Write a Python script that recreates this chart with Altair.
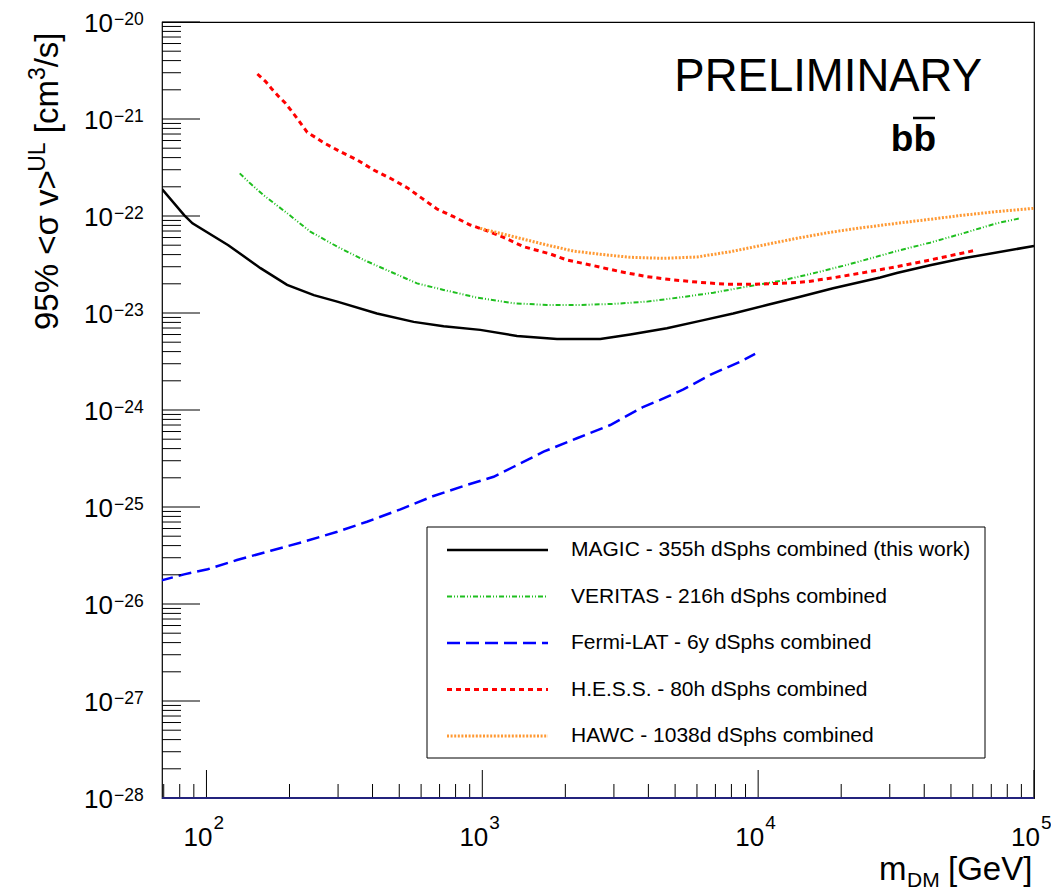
import altair as alt
import pandas as pd

# ---------------- data ----------------
magic_m = [69, 83, 89, 120, 157, 196, 245, 298, 415, 564, 724, 983, 1336, 1865, 2677,
           3438, 4669, 6165, 8120, 10750, 14200, 18700, 27700, 31800, 42000, 55400, 100000]
magic_sv = [1.90e-22, 1.02e-22, 8.4e-23, 5.0e-23, 2.9e-23, 1.95e-23, 1.53e-23, 1.31e-23,
            9.9e-24, 8.1e-24, 7.3e-24, 6.7e-24, 5.8e-24, 5.4e-24, 5.4e-24, 6.0e-24, 6.95e-24,
            8.3e-24, 9.9e-24, 1.21e-23, 1.47e-23, 1.80e-23, 2.32e-23, 2.58e-23, 3.1e-23,
            3.66e-23, 4.91e-23]

veritas_m = [132, 144, 161, 196, 238, 298, 372, 464, 580, 724, 957, 1299, 1716, 2265, 2991,
             3952, 5218, 6887, 9100, 12020, 15870, 20960, 31800, 42000, 55400, 73270, 89000]
veritas_sv = [2.75e-22, 2.17e-22, 1.64e-22, 1.07e-22, 6.9e-23, 4.83e-23, 3.52e-23, 2.67e-23,
              2.02e-23, 1.73e-23, 1.44e-23, 1.26e-23, 1.21e-23, 1.21e-23, 1.24e-23, 1.31e-23,
              1.45e-23, 1.62e-23, 1.87e-23, 2.14e-23, 2.57e-23, 3.13e-23, 4.35e-23, 5.31e-23,
              6.64e-23, 8.41e-23, 9.47e-23]

fermi_m = [68, 83, 101, 129, 171, 225, 298, 382, 505, 666, 880, 1099, 1299, 1668, 2203,
           2910, 3841, 4415, 5360, 6700, 8606, 9750]
fermi_sv = [1.74e-26, 2.02e-26, 2.28e-26, 2.84e-26, 3.54e-26, 4.38e-26, 5.56e-26, 7.05e-26,
            9.46e-26, 1.30e-25, 1.69e-25, 2.05e-25, 2.60e-25, 3.72e-25, 5.11e-25, 7.00e-25,
            1.08e-24, 1.27e-24, 1.63e-24, 2.30e-24, 3.15e-24, 3.78e-24]

hess_m = [153, 164, 173, 183, 193, 202, 213, 222, 232, 248, 266, 306, 352, 404, 464, 534,
          605, 685, 787, 905, 1040, 1194, 1411, 1764, 2027, 2462, 3162, 3952, 4933, 6165,
          7701, 9616, 12020, 15010, 18740, 23420, 31800, 42000, 60260]
hess_sv = [2.91e-21, 2.43e-21, 2.02e-21, 1.70e-21, 1.46e-21, 1.24e-21, 1.02e-21, 8.67e-22,
           7.29e-22, 6.48e-22, 5.70e-22, 4.60e-22, 3.78e-22, 2.98e-22, 2.45e-22, 1.96e-22,
           1.52e-22, 1.18e-22, 9.84e-23, 8.07e-23, 7.05e-23, 6.03e-23, 4.83e-23, 4.06e-23,
           3.52e-23, 3.13e-23, 2.67e-23, 2.37e-23, 2.19e-23, 2.07e-23, 1.98e-23, 1.98e-23,
           2.02e-23, 2.10e-23, 2.31e-23, 2.57e-23, 3.00e-23, 3.52e-23, 4.38e-23]

hawc_m = [983, 1299, 1716, 2142, 2677, 3438, 4539, 5997, 7917, 10450, 13810, 18240, 24070,
          31800, 42000, 55400, 73270, 100000]
hawc_sv = [7.46e-23, 6.12e-23, 5.02e-23, 4.35e-23, 4.03e-23, 3.75e-23, 3.66e-23, 3.78e-23,
           4.28e-23, 5.02e-23, 5.89e-23, 6.79e-23, 7.6e-23, 8.41e-23, 9.25e-23, 1.02e-22,
           1.11e-22, 1.20e-22]

legend_labels = ["MAGIC - 355h dSphs combined (this work)",
                 "VERITAS - 216h dSphs combined",
                 "Fermi-LAT - 6y dSphs combined",
                 "H.E.S.S. - 80h dSphs combined",
                 "HAWC - 1038d dSphs combined"]

x_major_exp = [2, 3, 4, 5]
y_major_exp = [-20, -21, -22, -23, -24, -25, -26, -27, -28]

# ---------------- layout / style ----------------
W, H = 872, 776
FONT = "Liberation Sans"
xs = alt.Scale(type="log", domain=[69, 1e5], nice=False)
ys = alt.Scale(type="log", domain=[1e-28, 1e-20], nice=False)

styles = [  # color, dash, width
    ("#000000", None, 2.5),
    ("#1fbf1f", [5, 2, 1, 2, 1, 2], 2),
    ("#0000ff", [13, 6], 2.5),
    ("#ff0000", [5, 4], 3),
    ("#ff9933", [2, 1.6], 3),
]
series = [(magic_m, magic_sv), (veritas_m, veritas_sv), (fermi_m, fermi_sv),
          (hess_m, hess_sv), (hawc_m, hawc_sv)]


def line_kwargs(color, dash, width):
    kw = dict(color=color, strokeWidth=width)
    if dash is not None:
        kw["strokeDash"] = dash
    return kw


layers = []
for (m, sv), (c, d, w) in zip(series, styles):
    df = pd.DataFrame({"m": m, "sv": sv})
    layers.append(
        alt.Chart(df).mark_line(clip=True, **line_kwargs(c, d, w)).encode(
            x=alt.X("m:Q", scale=xs, axis=None),
            y=alt.Y("sv:Q", scale=ys, axis=None),
        )
    )

# ---- ticks (inward, ROOT style) ----
y_major = pd.DataFrame({"v": [10.0 ** e for e in y_major_exp],
                        "e": [str(e).replace("-", "\u2212") for e in y_major_exp]})
y_minor = pd.DataFrame({"v": [k * 10.0 ** e for e in range(-28, -20) for k in range(2, 10)]})
x_major = pd.DataFrame({"v": [10.0 ** e for e in x_major_exp],
                        "e": [str(e) for e in x_major_exp]})
x_minor = pd.DataFrame({"v": [70, 80, 90] + [k * 10.0 ** e for e in (2, 3, 4) for k in range(2, 10)]})

layers.append(alt.Chart(y_major).mark_rule(color="black", strokeWidth=1).encode(
    y=alt.Y("v:Q", scale=ys, axis=None), x=alt.value(0), x2=alt.value(38)))
layers.append(alt.Chart(y_minor).mark_rule(color="black", strokeWidth=1).encode(
    y=alt.Y("v:Q", scale=ys, axis=None), x=alt.value(0), x2=alt.value(19)))
layers.append(alt.Chart(x_major).mark_rule(color="black", strokeWidth=1).encode(
    x=alt.X("v:Q", scale=xs, axis=None), y=alt.value(H), y2=alt.value(H - 28)))
layers.append(alt.Chart(x_minor).mark_rule(color="black", strokeWidth=1).encode(
    x=alt.X("v:Q", scale=xs, axis=None), y=alt.value(H), y2=alt.value(H - 14)))

# bottom axis line (navy in reference)
layers.append(alt.Chart(pd.DataFrame({"a": [0]})).mark_rule(color="#23237d", strokeWidth=2).encode(
    x=alt.value(0), x2=alt.value(W), y=alt.value(H)))

# ---- tick labels ----
layers.append(alt.Chart(y_major).mark_text(align="right", baseline="alphabetic", fontSize=26,
                                           font=FONT, dy=10).encode(
    y=alt.Y("v:Q", scale=ys, axis=None), x=alt.value(-49), text=alt.value("10")))
layers.append(alt.Chart(y_major).mark_text(align="left", baseline="alphabetic", fontSize=17.5,
                                           font=FONT, dy=2.5).encode(
    y=alt.Y("v:Q", scale=ys, axis=None), x=alt.value(-48), text="e:N"))
layers.append(alt.Chart(x_major).mark_text(align="right", baseline="alphabetic", fontSize=26,
                                           font=FONT, dx=6).encode(
    x=alt.X("v:Q", scale=xs, axis=None), y=alt.value(H + 48), text=alt.value("10")))
layers.append(alt.Chart(x_major).mark_text(align="left", baseline="alphabetic", fontSize=19,
                                           font=FONT, dx=7).encode(
    x=alt.X("v:Q", scale=xs, axis=None), y=alt.value(H + 31), text="e:N"))


def txt(s, x, y, size, align="left", baseline="alphabetic", angle=0, weight="normal"):
    kw = dict(align=align, baseline=baseline, fontSize=size, font=FONT, fontWeight=weight,
              color="black")
    if angle:
        kw["angle"] = angle
    return alt.Chart(pd.DataFrame({"t": [s]})).mark_text(**kw).encode(
        x=alt.value(x), y=alt.value(y), text="t:N")


# ---- axis titles (pieces, to get real super/subscripts) ----
F, f = 33, 23
ypieces = [("95% <σ v>", F, 308), ("UL", f, 149.8), ("[cm", F, 111.2), ("3", f, 58.1), ("/s]", F, 45.3)]
for s, size, yy in ypieces:
    layers.append(txt(s, -104 if size == F else -117, yy, size, angle=270))

layers.append(txt("m", 717, 858, F))
layers.append(txt("DM", 745, 865, 21))
layers.append(txt("[GeV]", 786, 858, F))

# ---- annotations ----
layers.append(txt("PRELIMINARY", 820, 69, 45.5, align="right"))
layers.append(txt("bb", 774, 129, 37, align="right", weight="bold"))
layers.append(alt.Chart(pd.DataFrame({"a": [0]})).mark_rule(color="black", strokeWidth=2.5).encode(
    x=alt.value(751), x2=alt.value(773), y=alt.value(96)))

# ---- legend ----
layers.append(alt.Chart(pd.DataFrame({"a": [0]})).mark_rect(fill="white", stroke="black",
                                                             strokeWidth=1).encode(
    x=alt.value(265), x2=alt.value(823), y=alt.value(505), y2=alt.value(736)))
for i, (lab, (c, d, w)) in enumerate(zip(legend_labels, styles)):
    yy = 528 + i * 46.5
    layers.append(alt.Chart(pd.DataFrame({"a": [0]})).mark_rule(**line_kwargs(c, d, w)).encode(
        x=alt.value(285), x2=alt.value(386), y=alt.value(yy)))
    layers.append(txt(lab, 409, yy, 21, baseline="middle"))

chart = alt.layer(*layers).properties(
    width=W, height=H,
    padding={"left": 154, "top": 14, "right": 17, "bottom": 96},
    autosize=alt.AutoSizeParams(type="none"),
).configure_view(stroke="black", strokeWidth=1.2)

chart.save("out.html", embed_options={"renderer": "svg", "actions": False})
